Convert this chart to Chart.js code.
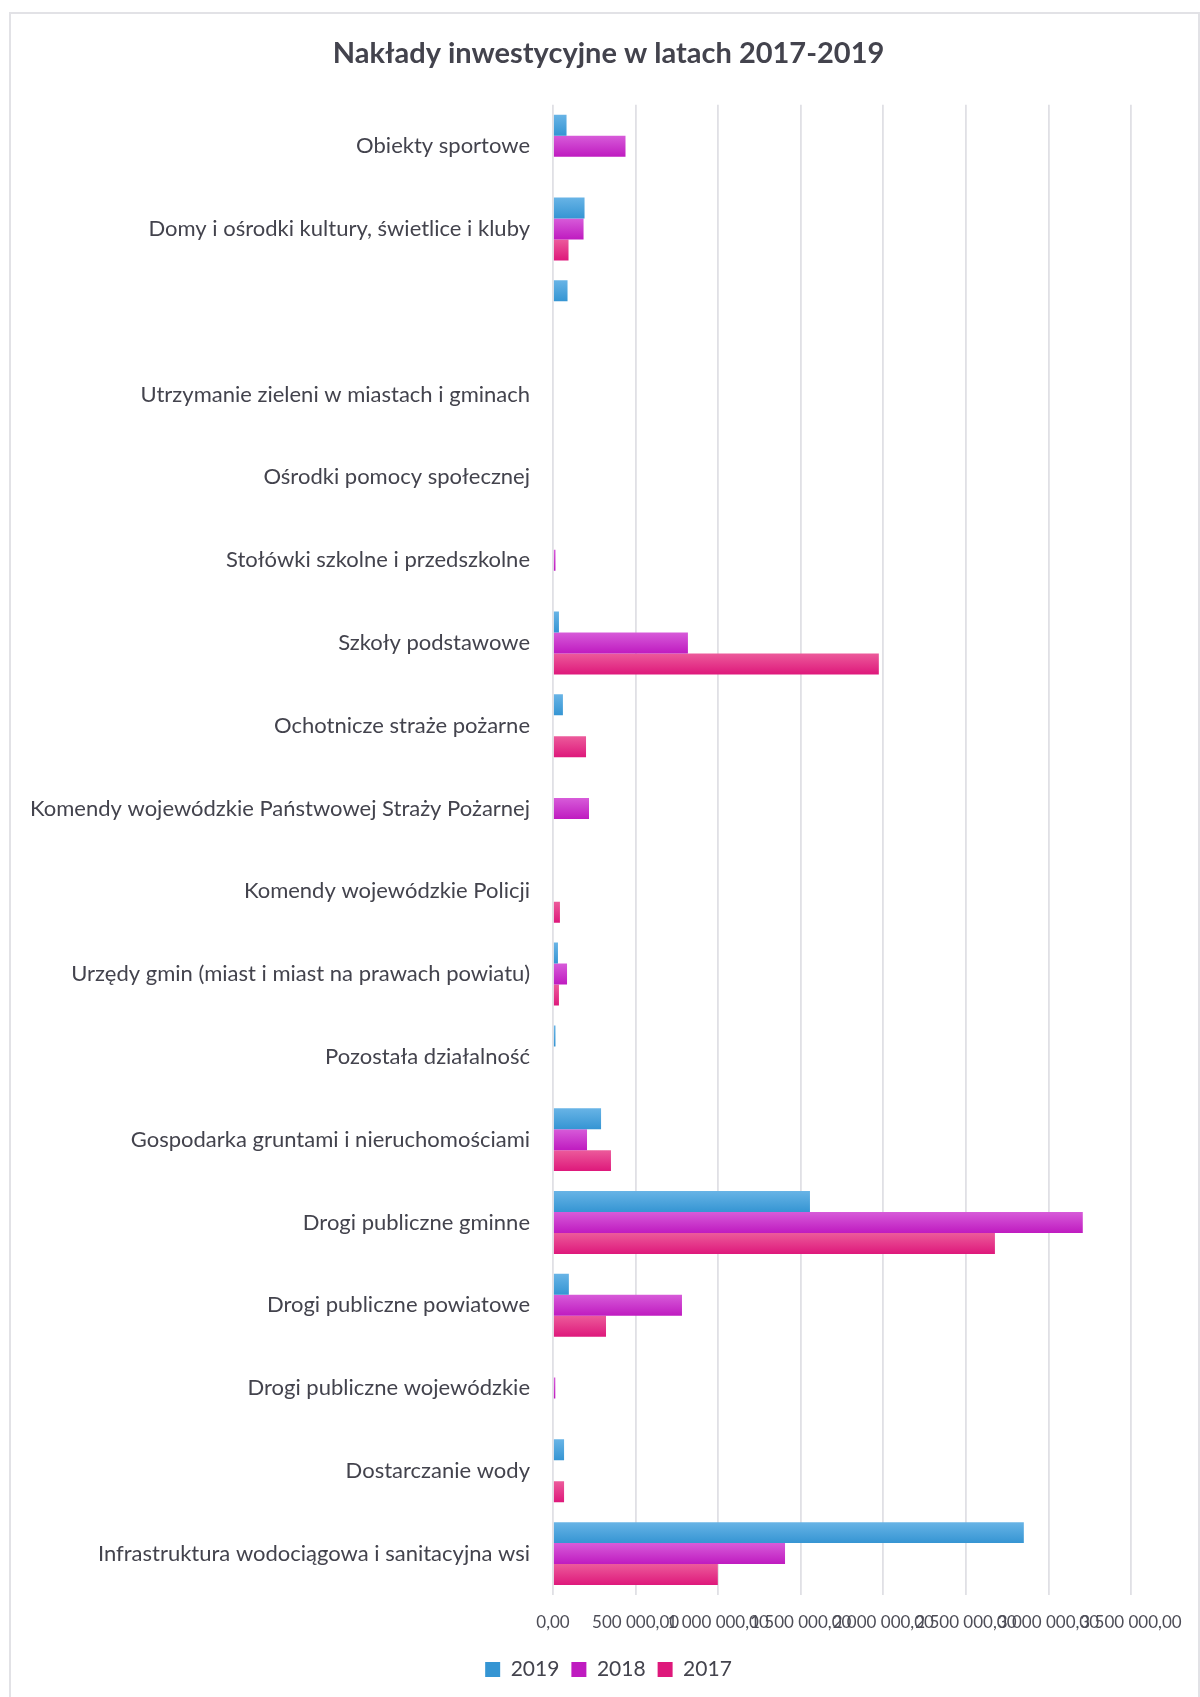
<!DOCTYPE html>
<html lang="pl">
<head>
<meta charset="utf-8">
<title>Nakłady inwestycyjne w latach 2017-2019</title>
<script src="https://cdn.jsdelivr.net/npm/chart.js@4/dist/chart.umd.min.js"></script>
<style>
  html, body { margin: 0; padding: 0; background: #fff; overflow: hidden; }
  #wrap { position: relative; width: 1200px; height: 1697px; }
  #myChart { position: absolute; left: 0; top: 0; }
  #frame {
    position: absolute; left: 9px; top: 12px; width: 1187px; height: 1800px;
    border: 2px solid #e2e2e6; pointer-events: none;
  }
</style>
</head>
<body>
<div id="wrap">
  <canvas id="myChart" width="1200" height="1697"></canvas>
  <div id="frame"></div>
</div>
<script>
const categories = [
  'Obiekty sportowe',
  'Domy i ośrodki kultury, świetlice i kluby',
  '',
  'Utrzymanie zieleni w miastach i gminach',
  'Ośrodki pomocy społecznej',
  'Stołówki szkolne i przedszkolne',
  'Szkoły podstawowe',
  'Ochotnicze straże pożarne',
  'Komendy wojewódzkie Państwowej Straży Pożarnej',
  'Komendy wojewódzkie Policji',
  'Urzędy gmin (miast i miast na prawach powiatu)',
  'Pozostała działalność',
  'Gospodarka gruntami i nieruchomościami',
  'Drogi publiczne gminne',
  'Drogi publiczne powiatowe',
  'Drogi publiczne wojewódzkie',
  'Dostarczanie wody',
  'Infrastruktura wodociągowa i sanitacyjna wsi'
]

const v2019 = [82000, 191000, 88000, 0, 0, 0, 36000, 60000, 0, 0, 30000, 15000, 291000, 1556000, 96000, 0, 67000, 2851000]
const v2018 = [439000, 185000, 0, 0, 0, 15000, 817000, 0, 218000, 0, 85000, 0, 206000, 3208000, 781000, 14000, 0, 1405000]
const v2017 = [0, 94000, 0, 0, 0, 0, 1973000, 200000, 0, 42000, 36000, 0, 351000, 2676000, 321000, 0, 67000, 998000]

const xTicks = [0, 500000, 1000000, 1500000, 2000000, 2500000, 3000000, 3500000]

const CAT_PCT = 0.76
const FONT = 'Lato'
const TEXT = '#43434d'

// 1 234 567,89
function fmt(v) {
  const [i, d] = v.toFixed(2).split('.')
  return i.replace(/\B(?=(\d{3})+(?!\d))/g, ' ') + ',' + d
}

// vertical gradient over each bar, lighter on top
function barFill(top, bottom, mid) {
  return function (c) {
    const y = c.chart.scales.y
    if (c.type !== 'data' || !y || !y.height) return mid
    const step = y.height / categories.length
    const thick = step * CAT_PCT / 3
    const y0 = y.getPixelForValue(c.dataIndex) - step * CAT_PCT / 2 + c.datasetIndex * thick
    const g = c.chart.ctx.createLinearGradient(0, y0, 0, y0 + thick)
    g.addColorStop(0, top)
    g.addColorStop(1, bottom)
    return g
  }
}

var ctx = document.getElementById('myChart').getContext('2d')

new Chart(ctx, {
  type: 'bar',
  data: {
    labels: categories,
    datasets: [{
      label: '2019',
      data: v2019,
      backgroundColor: barFill('#68b4e6', '#3595d3', '#45a2dc')
    }, {
      label: '2018',
      data: v2018,
      backgroundColor: barFill('#d75bd9', '#bf1bc0', '#c92ccb')
    }, {
      label: '2017',
      data: v2017,
      backgroundColor: barFill('#ec5b9b', '#de187b', '#e6288a')
    }]
  },
  options: {
    indexAxis: 'y',
    responsive: false,
    animation: false,
    borderWidth: 0,
    categoryPercentage: CAT_PCT,
    barPercentage: 1,
    layout: { padding: { left: 17, right: 0, top: 0, bottom: 7 } },
    plugins: {
      title: {
        display: true,
        text: 'Nakłady inwestycyjne w latach 2017-2019',
        color: '#43434d',
        font: { family: FONT, size: 29, weight: 'bold' },
        padding: { top: 36, bottom: 34 }
      },
      legend: {
        position: 'bottom',
        labels: {
          color: TEXT,
          font: { family: FONT, size: 21 },
          boxWidth: 15,
          boxHeight: 15,
          padding: 12
        }
      },
      tooltip: { enabled: false }
    },
    scales: {
      x: {
        min: 0,
        max: 3500000,
        afterBuildTicks: s => { s.ticks = xTicks.map(v => ({ value: v })) },
        afterFit: s => { s.height = 52 },
        grid: { color: '#e0e0e5', lineWidth: 1.8, drawTicks: false },
        border: { display: false },
        ticks: {
          autoSkip: false,
          maxRotation: 0,
          padding: 17,
          color: '#4d4d57',
          font: { family: FONT, size: 17 },
          callback: v => fmt(v)
        }
      },
      y: {
        afterFit: s => { s.width = 536 },
        grid: { display: false, drawTicks: false },
        border: { display: false },
        ticks: {
          autoSkip: false,
          padding: 23,
          color: TEXT,
          font: { family: FONT, size: 22 }
        }
      },
      yRight: {
        position: 'right',
        afterFit: s => { s.width = 69 },
        grid: { display: false, drawTicks: false },
        border: { display: false },
        ticks: { display: false }
      }
    }
  }
})
</script>
</body>
</html>
